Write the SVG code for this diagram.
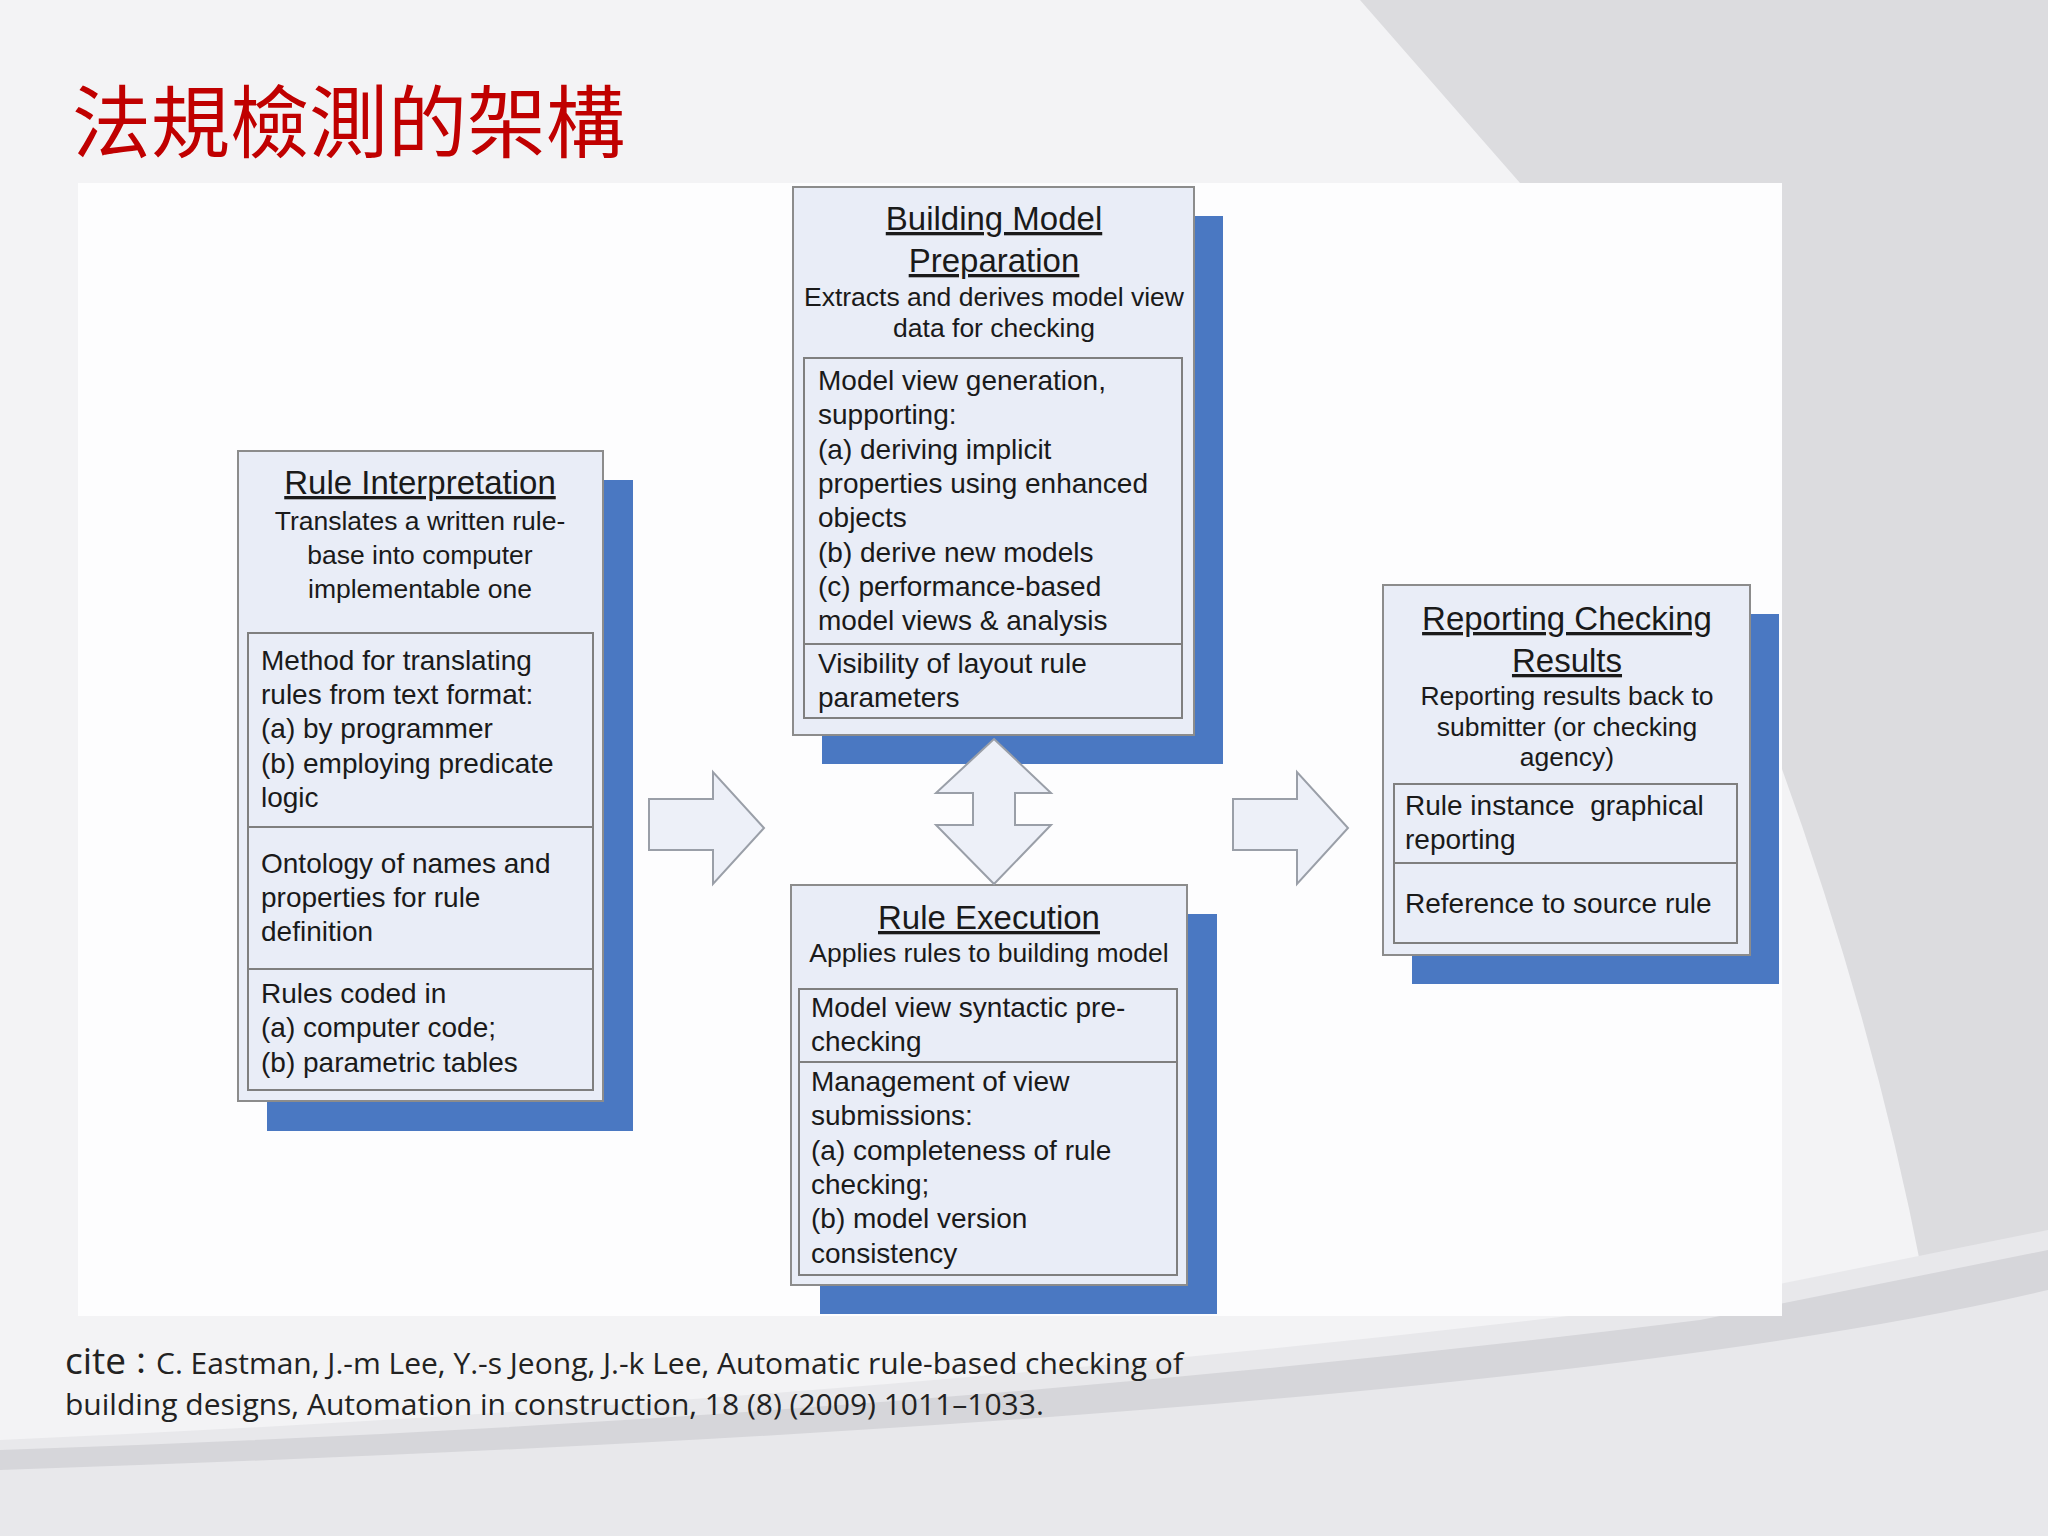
<svg xmlns="http://www.w3.org/2000/svg" width="2048" height="1536" viewBox="0 0 2048 1536">
<style>
.sh{fill:#4a78c2}
.bx{fill:#e9edf7;stroke:#8c8c8c;stroke-width:2}
.in{fill:none;stroke:#7f7f7f;stroke-width:2}
.t{font-family:"Liberation Sans",Arial,sans-serif;fill:#1a1a1a}
.h{font-size:33px;text-decoration:underline;text-anchor:middle}
.s{font-size:26.5px;text-anchor:middle}
.b{font-size:28px}
.ar{fill:#edf0f8;stroke:#9a9fa8;stroke-width:2}
</style>
<rect width="2048" height="1536" fill="#f3f3f5"/>
<path d="M1360 0 L2048 0 L2048 1536 L1960 1536 Q1900 900 1520 183 Z" fill="#dcdcdf"/>
<path d="M0 1440 Q900 1400 1700 1300 L2048 1230 L2048 1536 L0 1536 Z" fill="#e8e8eb"/>
<path d="M0 1450 Q900 1420 1700 1320 L2048 1250 L2048 1290 Q1500 1420 0 1470 Z" fill="#d6d6da"/>
<rect x="78" y="183" width="1704" height="1133" fill="#fdfdfe"/>
<text x="72" y="152" font-family="'Noto Sans CJK TC','Noto Sans CJK SC',sans-serif" font-size="79" fill="#c00000">法規檢測的架構</text>

<g id="rule-interpretation">
<rect class="sh" x="267" y="480" width="366" height="651"/>
<rect class="bx" x="238" y="451" width="365" height="650"/>
<rect class="in" x="248" y="633" width="345" height="457"/>
<line class="in" x1="248" y1="827" x2="593" y2="827"/>
<line class="in" x1="248" y1="969" x2="593" y2="969"/>
<text class="t h" x="420" y="494">Rule Interpretation</text>
<text class="t s" x="420" y="530">Translates a written rule-</text>
<text class="t s" x="420" y="564">base into computer</text>
<text class="t s" x="420" y="598">implementable one</text>
<text class="t b" x="261" y="670">Method for translating</text>
<text class="t b" x="261" y="704">rules from text format:</text>
<text class="t b" x="261" y="738">(a) by programmer</text>
<text class="t b" x="261" y="773">(b) employing predicate</text>
<text class="t b" x="261" y="807">logic</text>
<text class="t b" x="261" y="873">Ontology of names and</text>
<text class="t b" x="261" y="907">properties for rule</text>
<text class="t b" x="261" y="941">definition</text>
<text class="t b" x="261" y="1003">Rules coded in</text>
<text class="t b" x="261" y="1037">(a) computer code;</text>
<text class="t b" x="261" y="1072">(b) parametric tables</text>
</g>

<g id="building-model">
<rect class="sh" x="822" y="216" width="401" height="548"/>
<rect class="bx" x="793" y="187" width="401" height="548"/>
<rect class="in" x="804" y="358" width="378" height="360"/>
<line class="in" x1="804" y1="644" x2="1182" y2="644"/>
<text class="t h" x="994" y="230">Building Model</text>
<text class="t h" x="994" y="272">Preparation</text>
<text class="t s" x="994" y="306">Extracts and derives model view</text>
<text class="t s" x="994" y="337">data for checking</text>
<text class="t b" x="818" y="390">Model view generation,</text>
<text class="t b" x="818" y="424">supporting:</text>
<text class="t b" x="818" y="459">(a) deriving implicit</text>
<text class="t b" x="818" y="493">properties using enhanced</text>
<text class="t b" x="818" y="527">objects</text>
<text class="t b" x="818" y="562">(b) derive new models</text>
<text class="t b" x="818" y="596">(c) performance-based</text>
<text class="t b" x="818" y="630">model views &amp; analysis</text>
<text class="t b" x="818" y="673">Visibility of layout rule</text>
<text class="t b" x="818" y="707">parameters</text>
</g>

<g id="rule-execution">
<rect class="sh" x="820" y="914" width="397" height="400"/>
<rect class="bx" x="791" y="885" width="396" height="400"/>
<rect class="in" x="799" y="989" width="378" height="286"/>
<line class="in" x1="799" y1="1062" x2="1177" y2="1062"/>
<text class="t h" x="989" y="929">Rule Execution</text>
<text class="t s" x="989" y="962">Applies rules to building model</text>
<text class="t b" x="811" y="1017">Model view syntactic pre-</text>
<text class="t b" x="811" y="1051">checking</text>
<text class="t b" x="811" y="1091">Management of view</text>
<text class="t b" x="811" y="1125">submissions:</text>
<text class="t b" x="811" y="1160">(a) completeness of rule</text>
<text class="t b" x="811" y="1194">checking;</text>
<text class="t b" x="811" y="1228">(b) model version</text>
<text class="t b" x="811" y="1263">consistency</text>
</g>

<g id="reporting">
<rect class="sh" x="1412" y="614" width="367" height="370"/>
<rect class="bx" x="1383" y="585" width="367" height="370"/>
<rect class="in" x="1394" y="784" width="343" height="159"/>
<line class="in" x1="1394" y1="863" x2="1737" y2="863"/>
<text class="t h" x="1567" y="630">Reporting Checking</text>
<text class="t h" x="1567" y="672">Results</text>
<text class="t s" x="1567" y="705">Reporting results back to</text>
<text class="t s" x="1567" y="736">submitter (or checking</text>
<text class="t s" x="1567" y="766">agency)</text>
<text class="t b" x="1405" y="815" xml:space="preserve">Rule instance  graphical</text>
<text class="t b" x="1405" y="849">reporting</text>
<text class="t b" x="1405" y="913">Reference to source rule</text>
</g>

<g id="connectors">
<path class="ar" d="M649 799 H713 V772 L764 828 L713 884 V850 H649 Z"/>
<path class="ar" d="M1233 799 H1297 V772 L1348 828 L1297 884 V850 H1233 Z"/>
<path class="ar" d="M994 739 L1051 793 H1015 V825 H1051 L994 884 L936 825 H973 V793 H936 Z"/>
</g>

<text x="65" y="1374" font-family="'Open Sans','Noto Sans','Noto Sans CJK TC',sans-serif" font-size="30" fill="#222"><tspan font-size="37">cite</tspan>：C. Eastman, J.-m Lee, Y.-s Jeong, J.-k Lee, Automatic rule-based checking of</text>
<text x="65" y="1415" font-family="'Open Sans','Noto Sans',sans-serif" font-size="30" fill="#222">building designs, Automation in construction, 18 (8) (2009) 1011–1033.</text>
</svg>
